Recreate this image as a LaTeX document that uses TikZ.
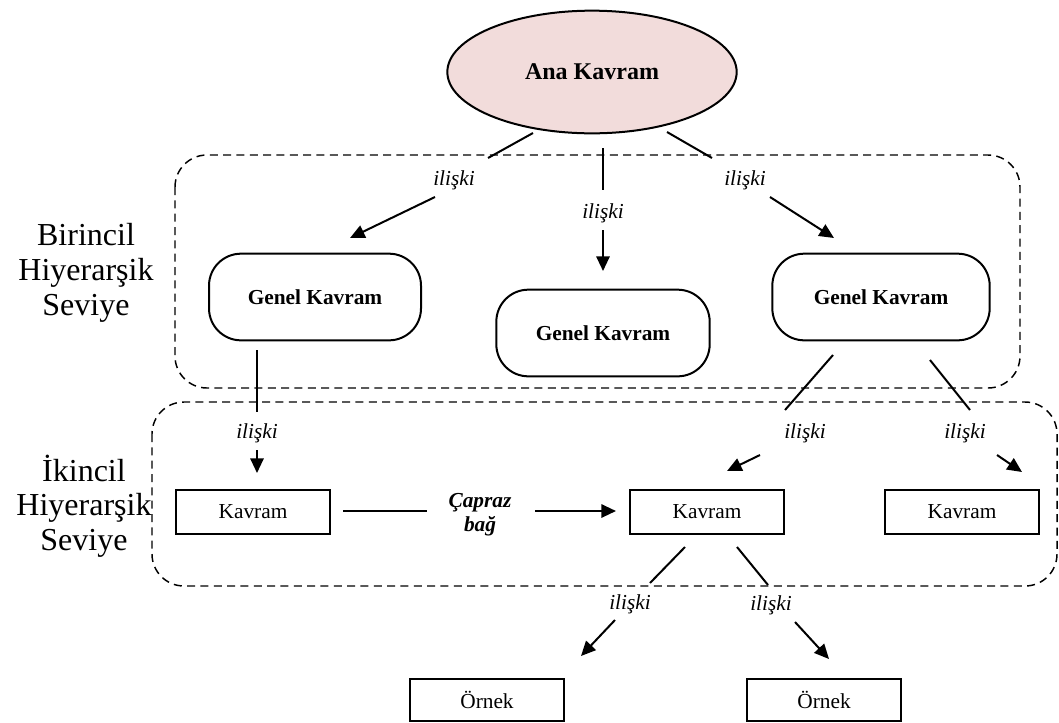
\documentclass[tikz,border=0pt]{standalone}
\usepackage{fontspec}
\setmainfont{Liberation Serif}
\usetikzlibrary{shapes.geometric,arrows.meta}
\definecolor{rootfill}{HTML}{F2DCDB}
\begin{document}
\begin{tikzpicture}[x=0.75pt,y=-0.75pt,
  link/.style={line width=1.5pt},
  arr/.style={line width=1.5pt,-{Triangle[length=11pt,width=10pt]}},
  rel/.style={font=\fontsize{16}{18}\selectfont\itshape, inner sep=0pt},
  level/.style={dash pattern=on 6pt off 4pt, line width=1.1pt, rounded corners=24pt},
  genel/.style={draw, line width=1.5pt, rounded corners=24pt,
    font=\fontsize{16}{18}\selectfont\bfseries, minimum height=65pt, inner sep=0pt},
  kavram/.style={draw, line width=1.5pt, minimum width=116pt, minimum height=33pt,
    inner sep=0pt, font=\fontsize{16}{18}\selectfont},
  tier/.style={align=center, font=\fontsize{24}{26}\selectfont, inner sep=0pt}
]
\useasboundingbox (0,0) rectangle (1059,722);

% hierarchy levels
\draw[level] (175,155) rectangle (1020,388);
\draw[level] (152,402) rectangle (1057,586);
\node[tier] (tier1) at (86,273) {Birincil\\Hiyerarşik\\Seviye};
\node[tier] (tier2) at (84,506) {İkincil\\Hiyerarşik\\Seviye};

% concepts
\node[ellipse, draw, line width=1.5pt, fill=rootfill, minimum width=217pt, minimum height=92pt,
  inner sep=0pt, font=\fontsize{18}{20}\selectfont\bfseries] (root) at (592,72) {Ana Kavram};
\node[genel, minimum width=159pt] (g1) at (315,297) {Genel Kavram};
\node[genel, minimum width=160pt] (g2) at (603,333) {Genel Kavram};
\node[genel, minimum width=163pt] (g3) at (881,297) {Genel Kavram};
\node[kavram] (k1) at (253,512) {Kavram};
\node[kavram] (k2) at (707,512) {Kavram};
\node[kavram] (k3) at (962,512) {Kavram};
\node[kavram, minimum height=31pt] (o1) at (487,700) {Örnek};
\node[kavram, minimum height=31pt] (o2) at (824,700) {Örnek};

% relation labels
\node[rel] (r1) at (454,180) {ilişki};
\node[rel] (r2) at (603,213) {ilişki};
\node[rel] (r3) at (745,180) {ilişki};
\node[rel] (r4) at (257,433) {ilişki};
\node[rel] (r5) at (805,433) {ilişki};
\node[rel] (r6) at (965,433) {ilişki};
\node[rel] (r7) at (630,604) {ilişki};
\node[rel] (r8) at (771,605) {ilişki};
\node[align=center, inner sep=0pt, font=\fontsize{16}{18}\selectfont\bfseries\itshape] (cross) at (480,515) {Çapraz\\bağ};

% connector end points
\coordinate (a1) at (533,133); \coordinate (b1) at (488,158);
\coordinate (c1) at (435,197); \coordinate (d1) at (350,238);
\coordinate (a2) at (603,148); \coordinate (b2) at (603,190);
\coordinate (c2) at (603,230); \coordinate (d2) at (603,271);
\coordinate (a3) at (667,132); \coordinate (b3) at (712,158);
\coordinate (c3) at (770,197); \coordinate (d3) at (834,238);
\coordinate (a4) at (257,350); \coordinate (b4) at (257,412);
\coordinate (c4) at (257,450); \coordinate (d4) at (257,473);
\coordinate (a5) at (833,355); \coordinate (b5) at (785,410);
\coordinate (c5) at (760,455); \coordinate (d5) at (727,471);
\coordinate (a6) at (930,360); \coordinate (b6) at (970,410);
\coordinate (c6) at (997,455); \coordinate (d6) at (1022,472);
\coordinate (a7) at (685,547); \coordinate (b7) at (650,583);
\coordinate (c7) at (615,620); \coordinate (d7) at (581,656);
\coordinate (a8) at (737,547); \coordinate (b8) at (768,585);
\coordinate (c8) at (795,622); \coordinate (d8) at (829,659);
\coordinate (a9) at (343,511); \coordinate (b9) at (427,511);
\coordinate (c9) at (535,511); \coordinate (d9) at (616,511);

% connectors, each split around its label
\foreach \i in {1,...,9} {
  \draw[link] (a\i) -- (b\i);
  \draw[arr] (c\i) -- (d\i);
}
\end{tikzpicture}
\end{document}
